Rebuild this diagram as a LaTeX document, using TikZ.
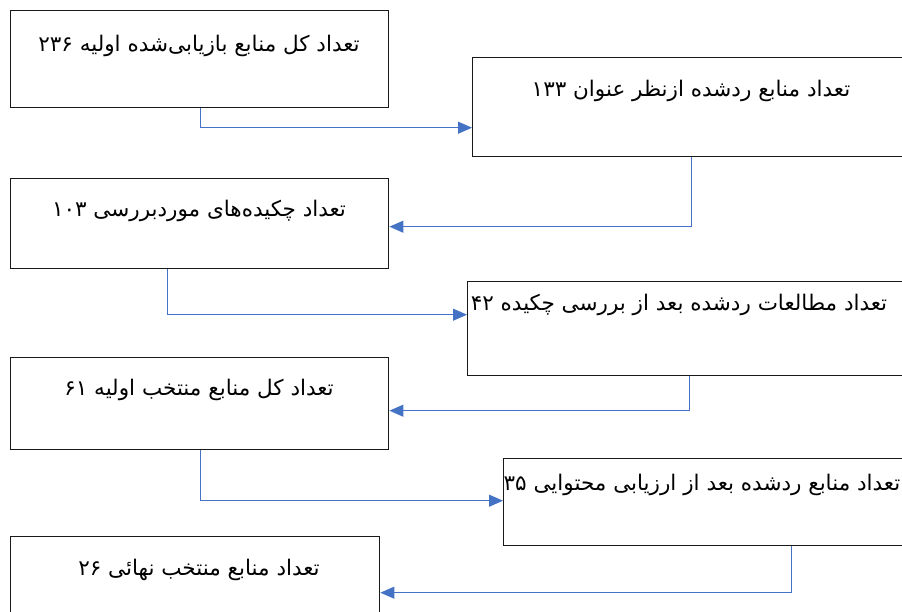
\documentclass[tikz,border=0pt]{standalone}
\usepackage{fontspec}
\newfontfamily\arabicfont[Script=Arabic]{DejaVu Sans}
\TeXXeTstate=1
\usetikzlibrary{arrows.meta}
\definecolor{linkblue}{HTML}{4472C4}
\tikzset{
  stagebox/.style={draw=black!90, line width=1.4pt, fill=white, inner sep=0pt, anchor=north west},
  stagetext/.style={font=\arabicfont\fontsize{21.5}{25}\selectfont, inner sep=0pt, anchor=base},
  conn/.style={draw=linkblue, line width=1.1pt, -{Triangle[length=14pt,width=12pt]}}
}
\begin{document}
\begin{tikzpicture}[x=1pt,y=-1pt]
\useasboundingbox (0,0) rectangle (902,612);
\clip (0,0) rectangle (902,612);
% boxes
\node[stagebox, minimum width=378pt, minimum height=97pt] (b1) at (10,10) {};
\node[stagebox, minimum width=431pt, minimum height=99pt] (b2) at (472,57) {};
\node[stagebox, minimum width=378pt, minimum height=90pt] (b3) at (10,178) {};
\node[stagebox, minimum width=436pt, minimum height=94pt] (b4) at (467,281) {};
\node[stagebox, minimum width=378pt, minimum height=92pt] (b5) at (10,357) {};
\node[stagebox, minimum width=420pt, minimum height=87pt] (b6) at (503,458) {};
\node[stagebox, minimum width=369pt, minimum height=97pt] (b7) at (10,536) {};
% texts
\node[stagetext] (t1) at (199,52) {\beginR تعداد کل منابع بازیابی‌شده اولیه \beginL۲۳۶\endL\endR};
\node[stagetext] (t2) at (691,97) {\beginR تعداد منابع ردشده ازنظر عنوان \beginL۱۳۳\endL\endR};
\node[stagetext] (t3) at (199,217) {\beginR تعداد چکیده‌های موردبررسی \beginL۱۰۳\endL\endR};
\node[stagetext] (t4) at (679,310) {\beginR تعداد مطالعات ردشده بعد از بررسی چکیده \beginL۴۲\endL\endR};
\node[stagetext] (t5) at (199,395) {\beginR تعداد کل منابع منتخب اولیه \beginL۶۱\endL\endR};
\node[stagetext] (t6) at (702,490) {\beginR تعداد منابع ردشده بعد از ارزیابی محتوایی \beginL۳۵\endL\endR};
\node[stagetext] (t7) at (199,575) {\beginR تعداد منابع منتخب نهائی \beginL۲۶\endL\endR};
% connectors
\draw[conn] ([xshift=1pt]b1.south) |- ([yshift=-20.5pt]b2.west);
\draw[conn] ([xshift=3.5pt]b2.south) |- ([yshift=-3pt]b3.east);
\draw[conn] ([xshift=-32pt]b3.south) |- ([yshift=14pt]b4.west);
\draw[conn] ([xshift=3.5pt]b4.south) |- ([yshift=-7pt]b5.east);
\draw[conn] ([xshift=1pt]b5.south) |- ([yshift=1.5pt]b6.west);
\draw[conn] ([xshift=78pt]b6.south) |- ([yshift=-7.5pt]b7.east);
\end{tikzpicture}
\end{document}
